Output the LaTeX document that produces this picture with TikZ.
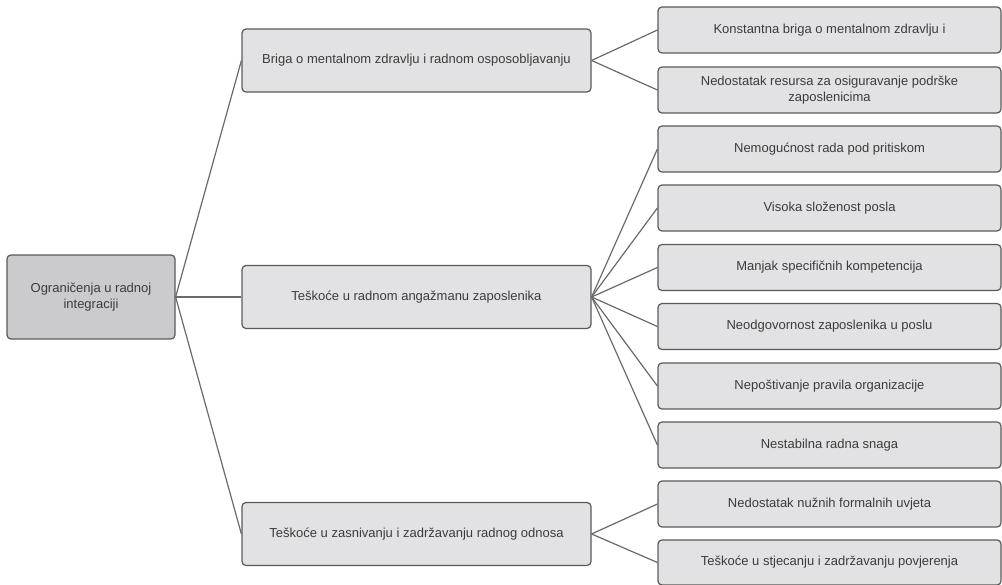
\documentclass[tikz,border=0pt]{standalone}
\usepackage{fontspec}
\setmainfont{Liberation Sans}
\definecolor{bordc}{HTML}{5A5A5A}
\definecolor{boxc}{HTML}{E2E2E4}
\definecolor{rootc}{HTML}{CBCBCD}
\definecolor{txtc}{HTML}{3C3C3C}
\definecolor{linec}{HTML}{6A6A6A}
\begin{document}
\begin{tikzpicture}[x=1pt,y=-1pt,
  box/.style={draw=bordc, fill=boxc, rounded corners=4pt, line width=1.2pt, text=txtc,
    font=\fontsize{13}{15.5}\selectfont, align=center, inner sep=0pt},
  rootbox/.style={box, fill=rootc, minimum width=168pt, minimum height=84pt},
  midbox/.style={box, minimum width=349pt, minimum height=63pt},
  leafbox/.style={box, minimum width=343pt, minimum height=46pt},
  conn/.style={draw=linec, line width=1.2pt}]
\useasboundingbox[fill=white] (0,0) rectangle (1002,585);
\node[rootbox] (root) at (91,297) {Ograničenja u radnoj\\integraciji};
\node[midbox] (m1) at (416.5,60.5) {Briga o mentalnom zdravlju i radnom osposobljavanju};
\node[midbox] (m2) at (416.5,297) {Teškoće u radnom angažmanu zaposlenika};
\node[midbox] (m3) at (416.5,534) {Teškoće u zasnivanju i zadržavanju radnog odnosa};
\node[leafbox] (l1) at (829.5,30) {Konstantna briga o mentalnom zdravlju i};
\node[leafbox] (l2) at (829.5,90) {Nedostatak resursa za osiguravanje podrške\\zaposlenicima};
\node[leafbox] (l3) at (829.5,149) {Nemogućnost rada pod pritiskom};
\node[leafbox] (l4) at (829.5,208) {Visoka složenost posla};
\node[leafbox] (l5) at (829.5,267.5) {Manjak specifičnih kompetencija};
\node[leafbox] (l6) at (829.5,326.5) {Neodgovornost zaposlenika u poslu};
\node[leafbox] (l7) at (829.5,386) {Nepoštivanje pravila organizacije};
\node[leafbox] (l8) at (829.5,445) {Nestabilna radna snaga};
\node[leafbox] (l9) at (829.5,504) {Nedostatak nužnih formalnih uvjeta};
\node[leafbox,minimum height=45pt] (l10) at (829.5,562.5) {Teškoće u stjecanju i zadržavanju povjerenja};
\foreach \m in {m1,m2,m3} \draw[conn] (root.east) -- (\m.west);
\foreach \l in {l1,l2} \draw[conn] (m1.east) -- (\l.west);
\foreach \l in {l3,l4,l5,l6,l7,l8} \draw[conn] (m2.east) -- (\l.west);
\foreach \l in {l9,l10} \draw[conn] (m3.east) -- (\l.west);
\end{tikzpicture}
\end{document}
